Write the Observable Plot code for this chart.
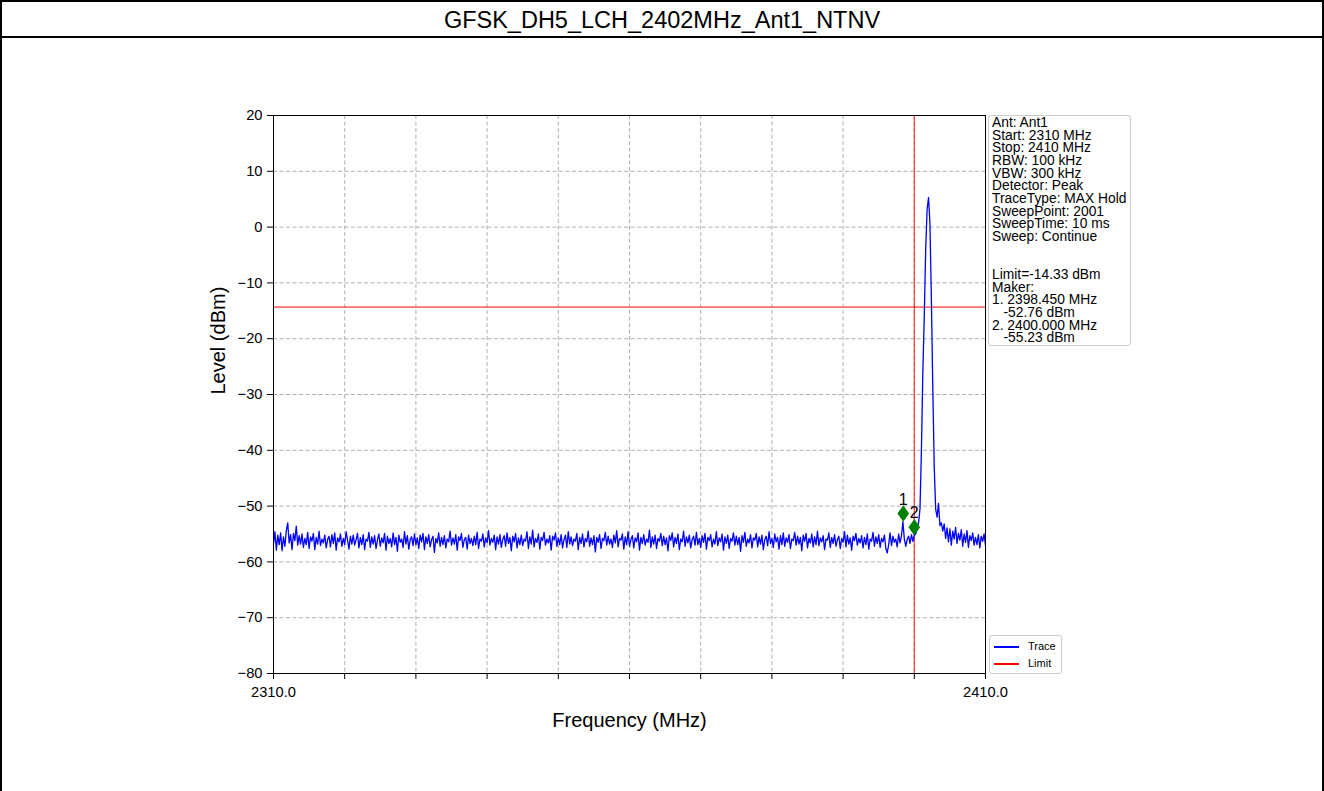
<!DOCTYPE html>
<html><head><meta charset="utf-8">
<script src="https://cdn.jsdelivr.net/npm/d3@7"></script>
<script src="https://cdn.jsdelivr.net/npm/@observablehq/plot@0.6"></script>
<style>
body{margin:0;background:#fff;font-family:"Liberation Sans",Arial,sans-serif;position:relative;width:1324px;height:791px;overflow:hidden}
#wrap{position:absolute;left:0;top:0;width:1324px;height:791px;box-sizing:border-box;border:2px solid #000;border-bottom:none}
#title{height:34px;line-height:36px;text-align:center;font-size:23.5px;border-bottom:2px solid #000;color:#000}
#info{position:absolute;left:988px;top:115px;width:143px;height:231px;box-sizing:border-box;border:1px solid #ccc;border-radius:3px;background:rgba(255,255,255,0.8);font-size:13.8px;line-height:12.67px;padding:1px 0 0 3px;white-space:pre;color:#000}
#legend{position:absolute;left:989px;top:635px;width:73px;height:39px;box-sizing:border-box;border:1px solid #ccc;border-radius:3px;background:rgba(255,255,255,0.8)}
.lg-line{position:absolute;width:25px;height:1.5px}
.lg-text{position:absolute;font-size:11px;line-height:12px;color:#000}
</style>
</head><body>
<div id="wrap"><div id="title"></div><div id="chart"></div></div>
<div id="info"></div>
<div id="legend"></div>
<script>
const chartTitle = "GFSK_DH5_LCH_2402MHz_Ant1_NTNV";
const freqStart = 2310, freqStop = 2410, freqStep = 0.2;
const levels = [
-56.8,-54.6,-57.9,-55.2,-56.9,-54.8,-58.0,-55.5,-57.2,-54.4,-53.0,-56.6,-55.1,-57.8,-54.9,-56.2,-53.6,-57.0,-55.3,-56.8,
-55.0,-57.4,-55.8,-56.9,-54.7,-57.6,-55.5,-56.3,-54.9,-57.8,-55.6,-56.8,-54.5,-57.1,-55.9,-56.6,-55.2,-57.5,-56.0,-55.4,
-57.3,-55.1,-56.7,-54.8,-57.9,-55.7,-56.4,-55.0,-57.2,-55.8,-56.9,-54.6,-56.1,-57.7,-55.4,-56.8,-55.2,-57.0,-56.0,-54.9,
-57.5,-55.6,-56.9,-55.1,-57.8,-55.9,-56.3,-54.7,-57.4,-55.5,-56.8,-55.3,-57.6,-56.1,-55.0,-57.2,-55.7,-56.6,-54.9,-57.9,
-55.4,-56.7,-55.8,-57.3,-54.8,-56.9,-55.6,-58.1,-55.2,-56.5,-55.9,-57.4,-54.6,-56.8,-55.3,-57.7,-56.0,-55.5,-57.1,-55.0,
-56.9,-55.7,-57.6,-55.2,-56.4,-54.9,-57.8,-55.5,-56.7,-55.1,-57.3,-56.0,-55.4,-58.3,-55.8,-56.6,-54.8,-57.2,-55.6,-56.9,
-55.3,-57.5,-55.9,-56.4,-54.5,-57.0,-55.7,-56.8,-55.1,-57.9,-55.5,-56.2,-54.9,-57.4,-56.0,-55.6,-57.7,-55.2,-56.7,-55.8,
-57.1,-55.4,-56.9,-54.7,-57.6,-55.9,-56.3,-55.0,-57.3,-55.7,-56.6,-54.4,-57.0,-55.8,-56.5,-55.2,-57.8,-55.5,-56.8,-55.1,
-57.4,-56.0,-55.3,-57.2,-54.8,-56.7,-55.6,-58.0,-55.4,-56.4,-54.9,-57.5,-55.7,-56.9,-55.2,-57.1,-55.9,-56.3,-54.6,-57.6,
-55.5,-56.8,-54.3,-57.3,-55.8,-56.5,-55.0,-57.7,-55.6,-56.2,-54.7,-57.0,-55.9,-56.6,-55.3,-57.9,-55.4,-56.1,-54.8,-57.2,
-55.7,-56.9,-55.1,-57.5,-56.0,-55.2,-57.4,-54.6,-56.8,-55.5,-57.1,-55.9,-56.3,-54.9,-57.8,-55.6,-56.7,-55.0,-57.3,-55.8,
-56.4,-54.5,-57.2,-55.7,-56.9,-55.3,-58.2,-55.6,-56.5,-55.1,-57.6,-55.8,-56.2,-54.7,-57.0,-55.4,-56.8,-55.9,-57.4,-55.2,
-56.6,-54.4,-57.3,-55.8,-56.1,-55.0,-57.7,-55.5,-56.9,-54.6,-57.2,-56.0,-55.3,-57.5,-55.7,-56.4,-54.8,-57.9,-55.6,-56.7,
-55.1,-57.0,-55.9,-56.5,-54.3,-57.4,-55.5,-56.8,-55.2,-57.6,-55.8,-56.3,-54.9,-57.1,-55.4,-56.9,-55.7,-58.0,-55.3,-56.2,
-54.8,-57.3,-55.6,-56.7,-55.0,-57.8,-55.9,-56.4,-54.5,-57.2,-55.5,-56.6,-55.2,-57.5,-56.0,-55.4,-57.0,-54.7,-56.9,-55.8,
-57.4,-55.3,-56.5,-54.9,-57.7,-55.6,-56.2,-55.1,-57.3,-55.9,-56.8,-54.6,-57.1,-55.7,-56.4,-55.0,-57.9,-55.5,-56.7,-55.2,
-57.6,-55.8,-56.3,-54.8,-57.0,-55.4,-56.9,-55.6,-58.1,-55.3,-56.5,-54.7,-57.2,-55.9,-56.6,-55.1,-57.5,-55.7,-56.1,-54.9,
-57.3,-55.5,-56.8,-55.2,-57.8,-56.0,-55.4,-57.1,-54.6,-56.7,-55.8,-57.4,-55.0,-56.4,-55.6,-57.7,-55.3,-56.9,-54.8,-57.2,
-55.7,-56.5,-55.1,-57.6,-55.9,-56.2,-54.7,-57.0,-55.4,-56.8,-55.6,-58.0,-55.2,-56.3,-54.9,-57.5,-55.8,-56.6,-55.0,-57.3,
-55.5,-56.9,-54.5,-57.1,-55.7,-56.4,-55.3,-57.8,-55.9,-56.1,-54.8,-57.4,-55.6,-56.7,-55.1,-57.2,-56.0,-55.4,-57.6,-55.8,
-56.5,-54.6,-57.3,-55.2,-56.8,-55.7,-57.9,-55.4,-56.2,-54.9,-57.0,-55.8,-56.6,-55.3,-57.5,-55.6,-56.9,-55.0,-57.7,-55.9,
-56.3,-54.7,-57.2,-55.5,-56.7,-55.1,-57.4,-55.8,-56.4,-55.2,-57.6,-58.4,-56.9,-54.8,-57.1,-55.4,-56.5,-55.9,-57.3,-55.0,
-56.6,-55.3,-52.8,-55.9,-57.2,
-56.0,-55.4,-56.7,-55.1,-56.3,-55.2,-55.0,-54.0,-53.0,-50.5,-40.0,-26.0,-16.0,-4.0,3.2,5.3,0.5,-13.0,-29.0,-43.0,-50.5,-52.0,-49.5,-53.5,-53.0,-54.5,
-53.2,-55.8,-53.9,-56.4,-54.1,-57.0,-54.5,-55.9,-53.8,-56.7,-54.9,-56.1,-54.2,-57.2,-55.0,-56.5,-54.4,-57.4,-55.3,-56.2,-54.8,-57.0,-55.6,-56.9,-55.1,-57.5,-55.4,-56.3,-55.0,-57.1
];
const limitLevel = -14.33;
const bandEdge = 2400;
const markerLabels = ["1", "2"];
const markerFreqs = [2398.45, 2400.0];
const markerLevels = [-52.76, -55.23];
const xTicks = [2310, 2320, 2330, 2340, 2350, 2360, 2370, 2380, 2390, 2400, 2410];
const xLabelTicks = [2310, 2410];
const yTicks = [-80, -70, -60, -50, -40, -30, -20, -10, 0, 10, 20];
const xLabel = "Frequency (MHz)";
const yLabel = "Level (dBm)";
const infoLines = ["Ant: Ant1","Start: 2310 MHz","Stop: 2410 MHz","RBW: 100 kHz","VBW: 300 kHz","Detector: Peak","TraceType: MAX Hold","SweepPoint: 2001","SweepTime: 10 ms","Sweep: Continue","","","Limit=-14.33 dBm","Maker:","1. 2398.450 MHz","   -52.76 dBm","2. 2400.000 MHz","   -55.23 dBm"];
const legendNames = ["Trace", "Limit"];
const legendColors = ["blue", "red"];

const trace = levels.map((v, i) => ({f: +(freqStart + i * freqStep).toFixed(1), v}));
const markers = markerLabels.map((l, i) => ({label: l, f: markerFreqs[i], v: markerLevels[i]}));

const thinDiamond = {
  draw(ctx, size) {
    const h = Math.sqrt(size / Math.PI);
    ctx.moveTo(0, -h);
    ctx.lineTo(h * 0.7, 0);
    ctx.lineTo(0, h);
    ctx.lineTo(-h * 0.7, 0);
    ctx.closePath();
  }
};

document.getElementById("title").textContent = chartTitle;

const chart = Plot.plot({
  width: 1320, height: 753,
  marginLeft: 271, marginRight: 337, marginTop: 77, marginBottom: 118,
  x: {domain: [freqStart, freqStop]},
  y: {domain: [-80, 20]},
  style: {fontFamily: "'Liberation Sans', Arial, sans-serif", fontSize: "14.7px", color: "#000", background: "transparent"},
  marks: [
    Plot.gridX(xTicks, {stroke: "#b0b0b0", strokeOpacity: 1, strokeDasharray: "4,2.5"}),
    Plot.gridY(yTicks, {stroke: "#b0b0b0", strokeOpacity: 1, strokeDasharray: "4,2.5"}),
    Plot.ruleY([limitLevel], {stroke: "red", strokeWidth: 1}),
    Plot.ruleX([bandEdge], {stroke: "red", strokeOpacity: 0.7, strokeWidth: 1.3}),
    Plot.line(trace, {x: "f", y: "v", stroke: "blue", strokeWidth: 1.3}),
    Plot.dot(markers, {x: "f", y: "v", symbol: thinDiamond, r: 7, fill: "green", stroke: "green", dy: -8}),
    Plot.text(markers, {x: "f", y: "v", text: "label", dy: -22, fontSize: 16, fill: "#000"}),
    Plot.frame({stroke: "#000"}),
    Plot.axisX(xTicks, {tickSize: 6, tickPadding: 7, tickFormat: d => xLabelTicks.includes(d) ? d.toFixed(1) : "", label: null}),
    Plot.axisY(yTicks, {tickSize: 6, tickPadding: 5, label: null}),
    Plot.text([xLabel], {text: d => d, frameAnchor: "bottom", dy: 53, fontSize: 20, fill: "#000"}),
    Plot.text([yLabel], {text: d => d, frameAnchor: "left", dx: -55, rotate: -90, fontSize: 20, fill: "#000"})
  ]
});
document.getElementById("chart").appendChild(chart);

document.getElementById("info").textContent = infoLines.join("\n");

const lg = document.getElementById("legend");
legendNames.forEach((name, i) => {
  const ln = document.createElement("div");
  ln.className = "lg-line";
  ln.style.left = "4px";
  ln.style.top = (10 + i * 17) + "px";
  ln.style.background = legendColors[i];
  lg.appendChild(ln);
  const tx = document.createElement("div");
  tx.className = "lg-text";
  tx.style.left = "38px";
  tx.style.top = (4 + i * 17) + "px";
  tx.textContent = name;
  lg.appendChild(tx);
});
</script>
</body></html>
